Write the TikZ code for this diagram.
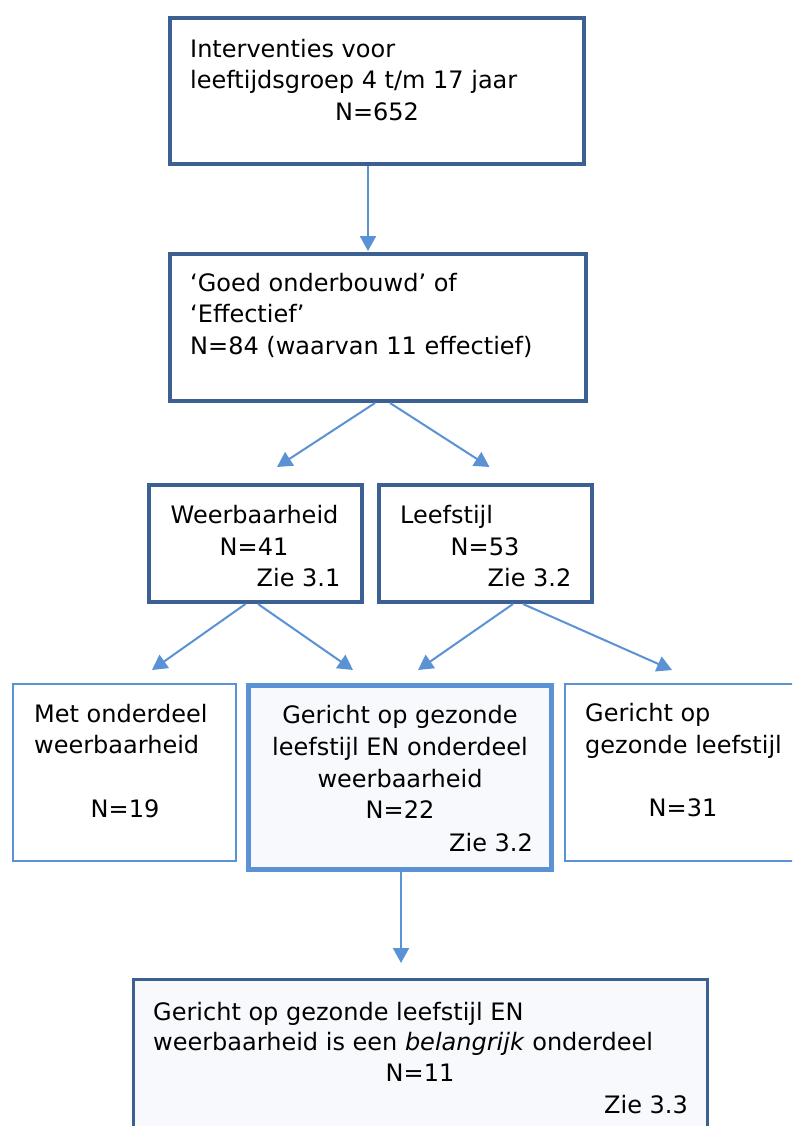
\documentclass[tikz,border=0pt]{standalone}
\usepackage{fontspec}
\setmainfont{DejaVu Sans}
\usetikzlibrary{arrows.meta,calc}

\definecolor{darkframe}{RGB}{60,96,146}
\definecolor{lightframe}{RGB}{91,145,213}
\definecolor{palefill}{RGB}{247,249,252}

\begin{document}
\begin{tikzpicture}[
            x=1pt, y=-1pt,
            line join=miter,
            font=\fontsize{24}{28}\selectfont,
            darkbox/.style={draw=darkframe, line width=4pt, fill=white,
                            rectangle, inner sep=0pt},
            lightbox/.style={draw=lightframe, line width=2pt, fill=white,
                             rectangle, inner sep=0pt},
            txt/.style={inner sep=0pt, anchor=base west},
            mid/.style={inner sep=0pt, anchor=base},
            conn/.style={draw=lightframe, line width=2pt,
                         -{Triangle[width=16pt,length=15pt]}}
        ]

    % Page
    \useasboundingbox (0,0) rectangle (792,1126);
    \clip (0,0) rectangle (792,1126);

    % Boxes
    \node[darkbox, minimum width=414, minimum height=146] (intro) at (377,91) {};
    \node[darkbox, minimum width=416, minimum height=147] (crit) at (378,327.5) {};
    \node[darkbox, minimum width=213, minimum height=117] (weer) at (255.5,543.5) {};
    \node[darkbox, minimum width=213, minimum height=117] (leef) at (485.5,543.5) {};

    \node[lightbox, minimum width=223, minimum height=177] (alleenweer) at (124.5,772.5) {};
    \node[lightbox, line width=5pt, fill=palefill,
          minimum width=303, minimum height=184] (beide) at (400,777.5) {};
    \node[lightbox, minimum width=335, minimum height=177] (alleenleef) at (732.5,772.5) {};

    \node[darkbox, line width=3pt, fill=palefill,
          minimum width=574, minimum height=220] (belangrijk) at (420.5,1089.5) {};

    % Texts
    \node[txt] (intro1) at (190,57.5) {Interventies voor};
    \node[txt] (intro2) at (190,89) {leeftijdsgroep 4 t/m 17 jaar};
    \node[mid] (intro3) at (377,120.5) {N=652};

    \node[txt] (crit1) at (190,291) {‘Goed onderbouwd’ of};
    \node[txt] (crit2) at (190,322.5) {‘Effectief’};
    \node[txt] (crit3) at (190,354) {N=84 (waarvan 11 effectief)};

    \node[txt] (weer1) at (170.5,523.5) {Weerbaarheid};
    \node[mid] (weer2) at (254,555) {N=41};
    \node[txt] (weer3) at (256.5,586.5) {Zie 3.1};

    \node[txt] (leef1) at (400,523.5) {Leefstijl};
    \node[mid] (leef2) at (485,555) {N=53};
    \node[txt] (leef3) at (487.5,586.5) {Zie 3.2};

    \node[txt] (alleenweer1) at (34,722) {Met onderdeel};
    \node[txt] (alleenweer2) at (34,753.5) {weerbaarheid};
    \node[mid] (alleenweer3) at (125,817.5) {N=19};

    \node[mid] (beide1) at (400,723) {Gericht op gezonde};
    \node[mid] (beide2) at (400,755) {leefstijl EN onderdeel};
    \node[mid] (beide3) at (400,787) {weerbaarheid};
    \node[mid] (beide4) at (400,818.5) {N=22};
    \node[txt] (beide5) at (449,851.5) {Zie 3.2};

    \node[txt] (alleenleef1) at (585,721) {Gericht op};
    \node[txt] (alleenleef2) at (585,753) {gezonde leefstijl};
    \node[mid] (alleenleef3) at (683,816.5) {N=31};

    \node[txt] (belangrijk1) at (153,1020) {Gericht op gezonde leefstijl EN};
    \node[txt] (belangrijk2) at (153,1050) {weerbaarheid is een \textit{belangrijk} onderdeel};
    \node[mid] (belangrijk3) at (420,1081.5) {N=11};
    \node[txt] (belangrijk4) at (604,1113) {Zie 3.3};

    % Arrow ends
    \coordinate (tipcrit) at ($(crit.north)+(-10,-1)$);
    \coordinate (tipweer) at ($(weer.north)+(21.5,-16)$);
    \coordinate (tipleef) at ($(leef.north)+(4,-16)$);
    \coordinate (tipalleenweer) at ($(alleenweer.north)+(27.5,-13)$);
    \coordinate (tipbeideA) at ($(beide.north)+(-47,-13)$);
    \coordinate (tipbeideB) at ($(beide.north)+(18,-13)$);
    \coordinate (tipalleenleef) at ($(alleenleef.north)+(-60.5,-13)$);
    \coordinate (tipbelangrijk) at ($(belangrijk.north)+(-19.5,-15)$);

    % Connectors
    \draw[conn] ([xshift=-9pt]intro.south) -- (tipcrit);
    \draw[conn] ([xshift=-3pt]crit.south) -- (tipweer);
    \draw[conn] ([xshift=12pt]crit.south) -- (tipleef);
    \draw[conn] ([xshift=-10pt]weer.south) -- (tipalleenweer);
    \draw[conn] ([xshift=2.5pt]weer.south) -- (tipbeideA);
    \draw[conn] ([xshift=27.5pt]leef.south) -- (tipbeideB);
    \draw[conn] ([xshift=37.5pt]leef.south) -- (tipalleenleef);
    \draw[conn] ([xshift=1pt]beide.south) -- (tipbelangrijk);

\end{tikzpicture}
\end{document}
